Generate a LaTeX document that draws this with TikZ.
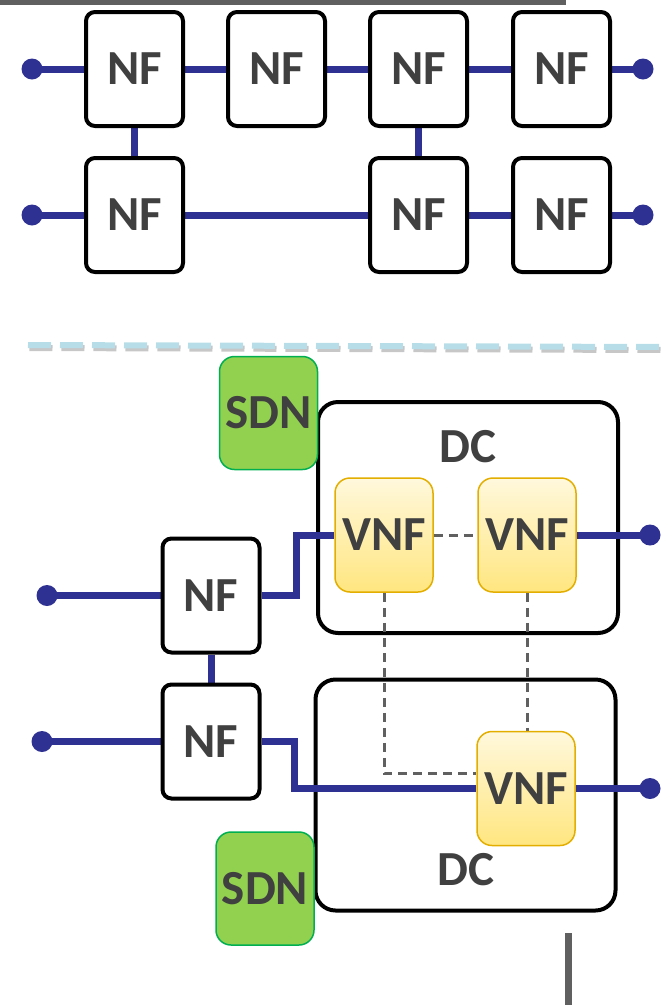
\documentclass[tikz,border=0pt]{standalone}
\usepackage{fontspec}
\setmainfont{Carlito}
\usetikzlibrary{calc}
\definecolor{navy}{HTML}{2E3192}
\definecolor{txtgray}{HTML}{404040}
\definecolor{vnftop}{HTML}{FFF8DC}
\definecolor{vnfbot}{HTML}{FFE680}
\definecolor{vnfborder}{HTML}{E3AE00}
\definecolor{sdngreen}{HTML}{92D050}
\definecolor{sdnborder}{HTML}{00B050}
\definecolor{sepblue}{HTML}{B7DEE8}
\definecolor{dgray}{HTML}{606060}
\pgfdeclarelayer{bg}
\pgfdeclarelayer{lines}
\pgfsetlayers{bg,lines,main}
\begin{document}
\begin{tikzpicture}[x=1pt,y=-1pt,
  lbl/.style={font=\fontsize{49}{49}\selectfont\bfseries, text=txtgray, inner sep=0pt},
  nfbox/.style={lbl, draw=black, line width=4pt, rounded corners=9pt, fill=white,
    minimum width=97pt, minimum height=114pt},
  vnfbox/.style={lbl, draw=vnfborder, line width=1.5pt, rounded corners=15pt,
    top color=vnftop, bottom color=vnfbot, minimum width=98pt, minimum height=114pt},
  sdnbox/.style={lbl, draw=sdnborder, line width=1.5pt, rounded corners=15pt,
    fill=sdngreen, minimum width=98pt, minimum height=113pt},
  dcbox/.style={draw=black, line width=4pt, rounded corners=20pt, fill=white,
    minimum width=300pt, minimum height=231pt, inner sep=0pt},
  navyline/.style={draw=navy, line width=7pt, line join=miter},
  gdash/.style={draw=dgray, line width=3pt, dash pattern=on 9pt off 6pt},
  sepline/.style={line width=6pt, dash pattern=on 23pt off 9pt},
  dot/.style={fill=navy}
]
\useasboundingbox (0,0) rectangle (663,1005);

% top gray bar and bottom gray line
\fill[dgray] (0,0) rectangle (566,5);
\coordinate (g1) at (568.5,933);
\coordinate (g2) at (568.5,1005);
\draw[dgray, line width=7pt] (g1) -- (g2);

% separator
\coordinate (s1) at (28,345);
\coordinate (s2) at (663,347);
\draw[sepline, black!22] ($(s1)+(1.5,3)$) -- ($(s2)+(1.5,3)$);
\draw[sepline, sepblue] (s1) -- (s2);

% DC boxes
\begin{pgfonlayer}{bg}
\node[dcbox] (dc1) at (468,517.5) {};
\node[dcbox] (dc2) at (465.5,795) {};
\end{pgfonlayer}
\node[lbl] (dc1t) at (468,447) {DC};
\node[lbl] (dc2t) at (466,870) {DC};

% top network
\node[nfbox] (a1) at (134.5,69) {NF};
\node[nfbox] (a2) at (276.5,69) {NF};
\node[nfbox] (a3) at (418.5,69) {NF};
\node[nfbox] (a4) at (561.5,69) {NF};
\node[nfbox] (b1) at (134.5,215) {NF};
\node[nfbox] (b3) at (418.5,215) {NF};
\node[nfbox] (b4) at (561.5,215) {NF};

% bottom network
\node[sdnbox] (sdn1) at (268.5,413) {SDN};
\node[sdnbox] (sdn2) at (265,888.5) {SDN};
\node[vnfbox] (v1) at (384,535) {VNF};
\node[vnfbox] (v2) at (527,535) {VNF};
\node[vnfbox] (v3) at (526,788.5) {VNF};
\node[nfbox] (m1) at (211,595.5) {NF};
\node[nfbox] (m2) at (211,741.5) {NF};

% end points
\coordinate (p1) at (32,69);
\coordinate (p2) at (643,69);
\coordinate (p3) at (32,215);
\coordinate (p4) at (643,215);
\coordinate (p5) at (47,595.5);
\coordinate (p6) at (650,535);
\coordinate (p7) at (42,741.5);
\coordinate (p8) at (650,788.5);

\begin{pgfonlayer}{lines}
\draw[navyline] (p1) -- (a1.west);
\draw[navyline] (a1) -- (a2);
\draw[navyline] (a2) -- (a3);
\draw[navyline] (a3) -- (a4);
\draw[navyline] (a4.east) -- (p2);
\draw[navyline] (p3) -- (b1.west);
\draw[navyline] (b1) -- (b3);
\draw[navyline] (b3) -- (b4);
\draw[navyline] (b4.east) -- (p4);
\draw[navyline] (a1) -- (b1);
\draw[navyline] (a3) -- (b3);

\draw[navyline] (p5) -- (m1.west);
\draw[navyline] (m1.east) -- ++(35,0) |- (v1.west);
\draw[navyline] (v2.east) -- (p6);
\draw[navyline] (m1) -- (m2);
\draw[navyline] (p7) -- (m2.west);
\draw[navyline] (m2.east) -- ++(33,0) |- (v3.west);
\draw[navyline] (v3.east) -- (p8);

\draw[gdash] (v1.east) -- (v2.west);
\draw[gdash] (v1.south) |- ($(v3.west)+(0,-15)$);
\draw[gdash] (v2.south) -- (v2.south |- v3.north);

\foreach \p in {p1,p2,p3,p4,p5,p6,p7,p8}
  \fill[dot] (\p) circle (10.5);
\end{pgfonlayer}
\end{tikzpicture}
\end{document}
